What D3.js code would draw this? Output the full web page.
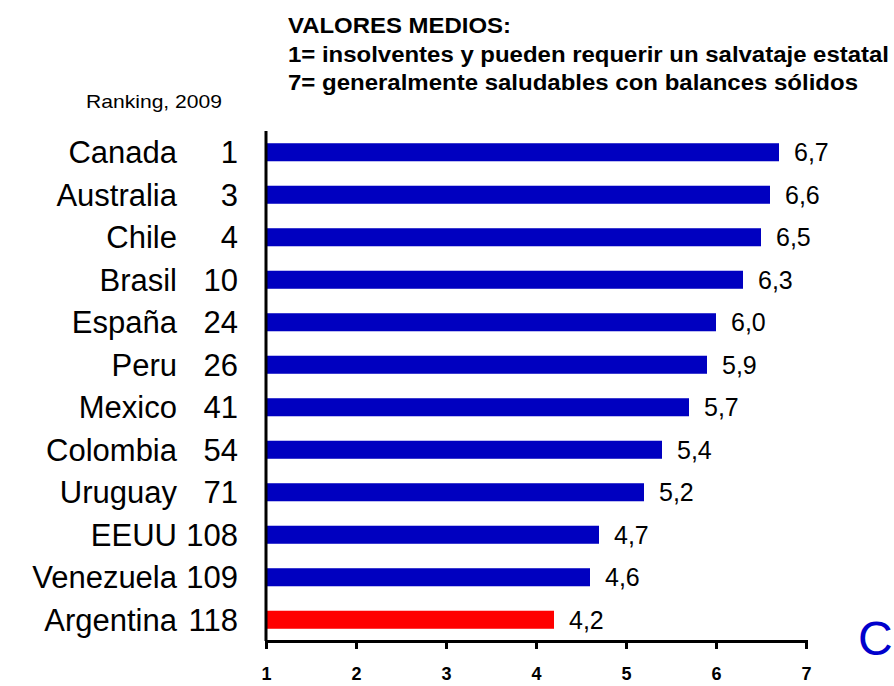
<!DOCTYPE html>
<html>
<head>
<meta charset="utf-8">
<script src="https://cdn.jsdelivr.net/npm/d3@7"></script>
<style>
  html, body { margin: 0; padding: 0; background: #fff; overflow: hidden; }
  text { font-family: "Liberation Sans", Arial, sans-serif; }
</style>
</head>
<body>
<div id="chart"></div>
<script>
const countries = ['Canada', 'Australia', 'Chile', 'Brasil', 'España', 'Peru',
  'Mexico', 'Colombia', 'Uruguay', 'EEUU', 'Venezuela', 'Argentina'];
const ranks = [1, 3, 4, 10, 24, 26, 41, 54, 71, 108, 109, 118];
const values = [6.7, 6.6, 6.5, 6.3, 6.0, 5.9, 5.7, 5.4, 5.2, 4.7, 4.6, 4.2];
const highlight = 'Argentina';
const xTicks = [1, 2, 3, 4, 5, 6, 7];
const titleLines = [
  'VALORES MEDIOS:',
  '1= insolventes y pueden requerir un salvataje estatal',
  '7= generalmente saludables con balances sólidos'
];

const W = 894, H = 686;
const margin = { top: 131, right: 88, bottom: 45, left: 266 };

const svg = d3.select('#chart')
  .append('svg')
  .attr('width', W)
  .attr('height', H);

const rows = countries.map(function(c, i) {
  return { name: c, rank: ranks[i], value: values[i] };
});

// scales
const x = d3.scaleLinear().domain([1, 7]).range([margin.left, W - margin.right]);
const y = d3.scaleBand().domain(countries)
  .range([margin.top, H - margin.bottom])
  .paddingInner(0.576).paddingOuter(0.288);

// title block
const titleLen = [223, 601, 570];
svg.selectAll('.title')
  .data(titleLines)
  .enter().append('text')
  .attr('class', 'title')
  .attr('x', 288)
  .attr('y', function(d, i) { return 33 + i * 28.5; })
  .attr('textLength', function(d, i) { return titleLen[i]; })
  .attr('lengthAdjust', 'spacingAndGlyphs')
  .style('font-size', '22px')
  .style('font-weight', 'bold')
  .text(function(d) { return d; });

svg.append('text')
  .attr('x', 86)
  .attr('y', 108)
  .attr('textLength', 136)
  .attr('lengthAdjust', 'spacingAndGlyphs')
  .style('font-size', '19px')
  .text('Ranking, 2009');

// bars
svg.selectAll('.bar')
  .data(rows)
  .enter().append('rect')
  .attr('class', 'bar')
  .attr('x', x(1))
  .attr('y', function(d) { return y(d.name); })
  .attr('width', function(d) { return x(d.value) - x(1); })
  .attr('height', y.bandwidth())
  .style('fill', function(d) { return d.name === highlight ? '#ff0000' : '#0000c0'; });

// value labels
svg.selectAll('.val')
  .data(rows)
  .enter().append('text')
  .attr('class', 'val')
  .attr('x', function(d) { return x(d.value) + 15; })
  .attr('y', function(d) { return y(d.name) + y.bandwidth() / 2 + 9; })
  .style('font-size', '25px')
  .text(function(d) { return d.value.toFixed(1).replace('.', ','); });

// country names and ranks
svg.selectAll('.name')
  .data(rows)
  .enter().append('text')
  .attr('class', 'name')
  .attr('x', 177)
  .attr('y', function(d) { return y(d.name) + y.bandwidth() / 2 + 11; })
  .attr('text-anchor', 'end')
  .style('font-size', '31px')
  .text(function(d) { return d.name; });

svg.selectAll('.rank')
  .data(rows)
  .enter().append('text')
  .attr('class', 'rank')
  .attr('x', 238)
  .attr('y', function(d) { return y(d.name) + y.bandwidth() / 2 + 11; })
  .attr('text-anchor', 'end')
  .style('font-size', '31px')
  .text(function(d) { return d.rank; });

// axes
const xAxis = svg.append('g')
  .attr('transform', 'translate(0,' + (H - margin.bottom) + ')')
  .call(d3.axisBottom(x).tickValues(xTicks).tickSize(8).tickSizeOuter(8).tickPadding(18)
    .tickFormat(d3.format('d')));
xAxis.select('.domain').attr('stroke', '#000').attr('stroke-width', 3);
xAxis.selectAll('.tick line').attr('stroke', '#000').attr('stroke-width', 3);
xAxis.selectAll('.tick text')
  .attr('fill', '#000')
  .style('font-family', '"Liberation Sans", Arial, sans-serif')
  .style('font-size', '18px')
  .style('font-weight', 'bold');

svg.append('line')
  .attr('x1', x(1)).attr('x2', x(1))
  .attr('y1', margin.top).attr('y2', H - margin.bottom)
  .attr('stroke', '#000')
  .attr('stroke-width', 3);

// stray letter cut off at the right edge
svg.append('text')
  .attr('x', 858)
  .attr('y', 655)
  .style('font-size', '48px')
  .style('fill', '#0000cc')
  .text('C');
</script>
</body>
</html>
